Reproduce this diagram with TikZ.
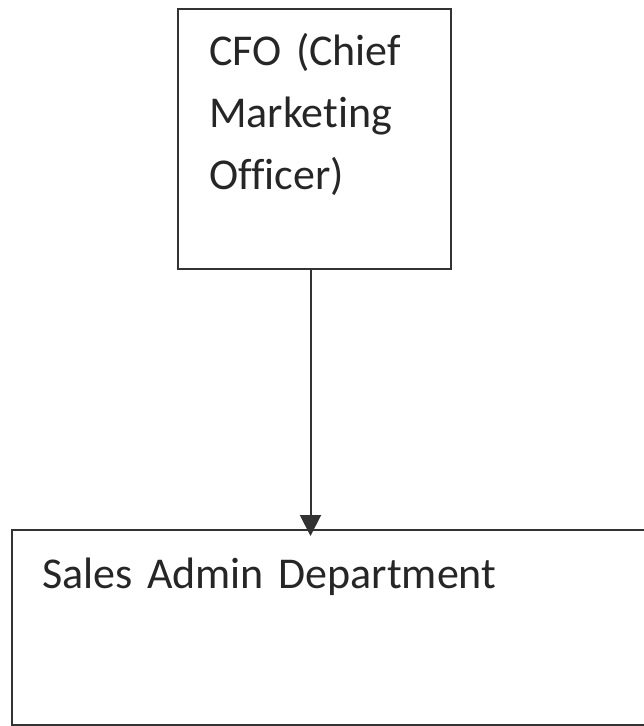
\documentclass[tikz,border=0pt]{standalone}
\usepackage{fontspec}
\setmainfont{Carlito}[Ligatures=NoCommon]
\usetikzlibrary{shapes,arrows.meta}
\tikzstyle{office} = [rectangle, line width=2pt, draw=black!80, anchor=north west, align=left, inner ysep=0pt, text=black!85, font=\fontsize{44}{62}\selectfont]
\tikzstyle{arrow} = [line width=2pt, draw=black!80, -{Triangle[width=21pt,length=21pt]}, shorten >=-7pt]

\begin{document}
\begin{tikzpicture}[x=1pt, y=-1pt]
\clip (0,0) rectangle (644,726);
\useasboundingbox (0,0) rectangle (644,726);
% nodes
\node (cfo) [office, inner xsep=31pt, text width=211pt, text height=56pt, text depth=204pt] at (177,8) {CFO (Chief\\Marketing\\Officer)};
\node (sales) [office, inner xsep=30pt, text width=576pt, text height=58pt, text depth=137pt] at (11,529) {Sales Admin Department};

%edges
\draw [arrow] ([xshift=-4pt]cfo.south) -- ([xshift=-4pt]cfo.south |- sales.north);

\end{tikzpicture}
\end{document}
